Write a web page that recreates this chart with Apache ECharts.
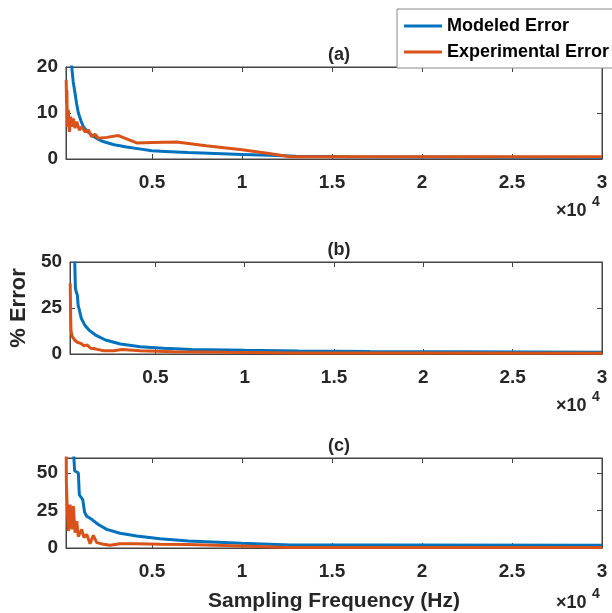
<!DOCTYPE html>
<html>
<head>
<meta charset="utf-8">
<script src="https://cdn.jsdelivr.net/npm/echarts@6/dist/echarts.min.js"></script>
<style>html,body{margin:0;padding:0;background:#fff;}#c{width:612px;height:613px;}</style>
</head>
<body>
<div id="c"></div>
<script>
// ---- data (Hz, % error) ----
const xTicks = [5000, 10000, 15000, 20000, 25000, 30000];
const panelTitles = ['(a)', '(b)', '(c)'];
const seriesNames = ['Modeled Error', 'Experimental Error'];

const modeledA_x = [483, 540, 620, 722, 810, 906, 1050, 1185, 1400, 1650, 1950, 2280, 2900, 3590, 4300, 4980, 6000, 7000, 8500, 10000, 11500, 13000, 16000, 20000, 25000, 30000];
const modeledA_y = [23, 20, 16.8, 14.3, 12, 10, 8.3, 7.0, 6.0, 5.2, 4.4, 3.8, 3.1, 2.6, 2.2, 1.8, 1.6, 1.4, 1.2, 1.0, 0.8, 0.6, 0.5, 0.45, 0.4, 0.35];
const experA_x = [230, 250, 270, 294, 350, 406, 483, 556, 628, 722, 817, 961, 1094, 1278, 1461, 1650, 1833, 2017, 2480, 3130, 4150, 5000, 6370, 8000, 10000, 11500, 12700, 16000, 20000, 25000, 30000];
const experA_y = [17.2, 12.1, 15, 7.0, 10.7, 5.9, 9.2, 7.0, 8.8, 6.7, 8.1, 6.3, 7.0, 5.9, 6.3, 4.8, 5.4, 4.5, 4.7, 5.1, 3.5, 3.6, 3.7, 2.9, 2.0, 1.2, 0.5, 0.5, 0.5, 0.5, 0.5];

const modeledB_x = [483, 520, 560, 628, 680, 722, 850, 1039, 1278, 1650, 2206, 3039, 4150, 5444, 7017, 10000, 13000, 17000, 22000, 30000];
const modeledB_y = [50.2, 36, 34, 32.1, 26, 24.8, 19.4, 15.8, 13.0, 10.3, 7.6, 5.4, 4.0, 3.1, 2.5, 2.0, 1.6, 1.4, 1.2, 1.0];
const experB_x = [230, 245, 260, 280, 330, 350, 420, 480, 539, 628, 700, 817, 900, 1000, 1100, 1185, 1370, 1550, 1740, 2111, 2667, 3130, 4150, 6000, 9000, 13000, 20000, 30000];
const experB_y = [38.4, 28, 18, 12.1, 13, 9.4, 10, 7.6, 8, 6.4, 6.8, 5.8, 5.5, 4.5, 5.0, 4.9, 3.1, 3.0, 2.5, 1.8, 1.8, 2.4, 1.8, 1.2, 0.9, 0.6, 0.5, 0.4];

const modeledC_x = [483, 650, 700, 906, 960, 1000, 1150, 1250, 1370, 1650, 2017, 2483, 3222, 4150, 5444, 7017, 9983, 12667, 17667, 30000];
const modeledC_y = [90, 62, 51.5, 50.0, 35.5, 34.5, 32.3, 24, 21.2, 19.1, 15.7, 12.4, 9.8, 8.0, 6.2, 4.6, 3.1, 2.0, 2.0, 1.8];
const experC_x = [230, 240, 294, 350, 444, 539, 628, 722, 817, 906, 1094, 1222, 1372, 1556, 1739, 1928, 2294, 2667, 3222, 4150, 5444, 7000, 9983, 12667, 20000, 30000];
const experC_y = [70, 43.4, 25.7, 11.3, 29, 12.4, 27.9, 10.2, 17.9, 7.6, 12.4, 6.9, 9.1, 2.9, 8.4, 3.6, 2.5, 1.8, 2.9, 2.9, 2.5, 2.3, 1.3, 0.3, 0.3, 0.3];

const yMax = [20, 50, 60];
const yInterval = [10, 25, 25];
const xMin = 220, xMax = 30000;

// ---- chart ----
const zip = (xs, ys) => xs.map((x, i) => [x, ys[i]]);
const panels = [
  [zip(modeledA_x, modeledA_y), zip(experA_x, experA_y)],
  [zip(modeledB_x, modeledB_y), zip(experB_x, experB_y)],
  [zip(modeledC_x, modeledC_y), zip(experC_x, experC_y)]
];
const colors = ['#0072BD', '#D95319'];
const axisCol = '#444';
const txtCol = '#262626';
const FF = '"Liberation Sans", Arial, sans-serif';
const gridTops = [67, 262, 458];
const gridHeights = [92, 92, 90.5];
const expOffsets = [52, 52, 55];

const grid = [], xAxis = [], yAxis = [], series = [], title = [], graphic = [];
for (let p = 0; p < 3; p++) {
  grid.push({left: 66, right: 10, top: gridTops[p], height: gridHeights[p], show: true, borderColor: axisCol, borderWidth: 1, backgroundColor: 'transparent'});
  const xBase = {gridIndex: p, type: 'value', min: xMin, max: xMax, splitLine: {show: false},
    axisLine: {show: true, onZero: false, lineStyle: {color: axisCol}},
    axisTick: {show: true, inside: true, length: 5, lineStyle: {color: axisCol}, customValues: xTicks}};
  xAxis.push(Object.assign({}, xBase, {position: 'bottom',
    axisLabel: {show: true, margin: 14, customValues: xTicks, formatter: v => String(v / 10000), color: txtCol, fontSize: 19, fontWeight: 'bold', fontFamily: FF},
    name: p === 2 ? 'Sampling Frequency (Hz)' : '', nameLocation: 'middle', nameGap: 43,
    nameTextStyle: {fontSize: 21, fontWeight: 'bold', color: txtCol, fontFamily: FF}}));
  xAxis.push(Object.assign({}, xBase, {position: 'top', axisLabel: {show: false}}));
  const yBase = {gridIndex: p, type: 'value', min: 0, max: yMax[p], interval: yInterval[p], splitLine: {show: false},
    axisLine: {show: true, lineStyle: {color: axisCol}},
    axisTick: {show: true, inside: true, length: 5, lineStyle: {color: axisCol}}};
  yAxis.push(Object.assign({}, yBase, {position: 'left',
    axisLabel: {show: true, margin: 8, color: txtCol, fontSize: 19, fontWeight: 'bold', fontFamily: FF},
    name: p === 1 ? '% Error' : '', nameLocation: 'middle', nameGap: 38, nameRotate: 90,
    nameTextStyle: {fontSize: 22, fontWeight: 'bold', color: txtCol, fontFamily: FF}}));
  yAxis.push(Object.assign({}, yBase, {position: 'right', axisLabel: {show: false}}));
  for (let s = 0; s < 2; s++) {
    series.push({type: 'line', name: seriesNames[s], xAxisIndex: p * 2, yAxisIndex: p * 2,
      data: panels[p][s], showSymbol: false, symbol: 'none', clip: true, smooth: false,
      lineStyle: {width: 3, color: colors[s]}, itemStyle: {color: colors[s]}, z: 2 + s});
  }
  title.push({text: panelTitles[p], left: 334, top: gridTops[p] - 26, textAlign: 'center',
    textStyle: {fontSize: 18, fontWeight: 'bold', color: txtCol, fontFamily: FF}});
  const by = gridTops[p] + gridHeights[p] + expOffsets[p];
  graphic.push({type: 'text', left: 556, top: by - 9, style: {text: '×10', fontSize: 18, fontWeight: 'bold', fill: txtCol, fontFamily: FF}});
  graphic.push({type: 'text', left: 592, top: by - 16, style: {text: '4', fontSize: 14, fontWeight: 'bold', fill: txtCol, fontFamily: FF}});
}

const chart = echarts.init(document.getElementById('c'), null, {renderer: 'canvas'});
chart.setOption({
  animation: false,
  backgroundColor: '#fff',
  title, grid, xAxis, yAxis, series, graphic,
  legend: {data: seriesNames, orient: 'vertical', left: 397, top: 9, icon: 'rect', itemWidth: 38, itemHeight: 3,
    itemGap: 8, padding: [8, 7, 7, 7], borderColor: '#888', borderWidth: 1, backgroundColor: '#fff',
    textStyle: {fontSize: 18, fontWeight: 'bold', color: '#000', fontFamily: FF, padding: [0, 0, 0, 0]}, z: 10}
});
</script>
</body>
</html>
